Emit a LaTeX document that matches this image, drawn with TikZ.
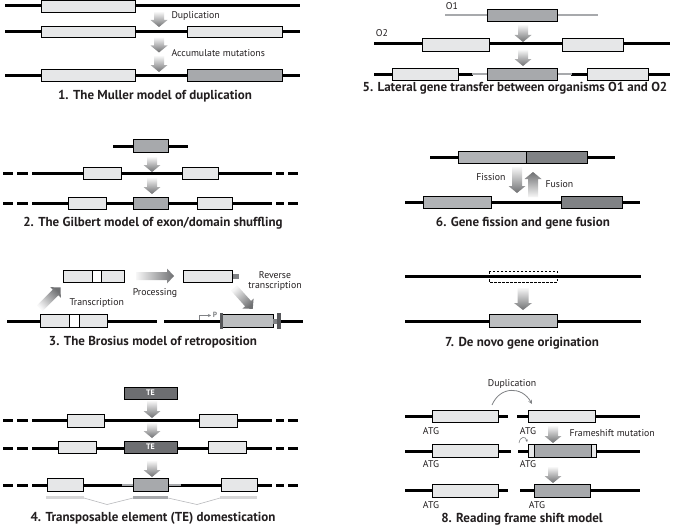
\documentclass[tikz,border=0pt]{standalone}
\usepackage{fontspec}
\setmainfont{PT Sans}
\usetikzlibrary{arrows.meta}
\definecolor{lgray}{HTML}{E6E7E8}
\definecolor{mgray}{HTML}{A7A9AC}
\definecolor{dgray}{HTML}{6D6E71}
\definecolor{fgray}{HTML}{B1B3B6}
\definecolor{ggray}{HTML}{808285}
\definecolor{ngray}{HTML}{BCBEC0}
\definecolor{alight}{HTML}{F7F7F7}
\definecolor{adark}{HTML}{6F7072}
\definecolor{txt}{HTML}{231F20}
\tikzset{
  dna/.style={line width=3pt,draw=black},
  gdna/.style={line width=2.6pt,draw=mgray},
  gbox/.style={draw=black,line width=0.8pt,fill=lgray},
  ttl/.style={font=\fontsize{13}{15}\selectfont\bfseries,text=txt},
  lbl/.style={font=\fontsize{9.8}{11}\selectfont,text=txt},
}
% block arrow: tail x, tail y, canvas angle, length, shaft half width, head half width
\newcommand\blk[6]{%
\begin{scope}[shift={(#1,#2)},rotate=#3]
\pgfmathsetmacro\shadeang{#3-90}
\shade[top color=adark,bottom color=alight,shading angle=\shadeang]
 (0,-#5)--(#4-7,-#5)--(#4-7,-#6)--(#4,0)--(#4-7,#6)--(#4-7,#5)--(0,#5)--cycle;
\end{scope}}
\newcommand\dline[1]{\draw[dna] (3,#1)--(13,#1) (17,#1)--(28,#1) (32,#1)--(272,#1) (276,#1)--(284,#1) (288,#1)--(298,#1);}
\begin{document}
\begin{tikzpicture}[x=1pt,y=-1pt]
\useasboundingbox (0,0) rectangle (679,527);
\fill[white] (0,0) rectangle (679,527);
% ---------- Panel 1
\draw[dna] (5,6)--(300,6);
\draw[gbox] (41,0.5) rectangle (135,12);
\blk{159}{12}{-90}{15}{5}{8.5}
\node[lbl,anchor=west] (p1dup) at (168,16) {Duplication};
\draw[dna] (5,32)--(300,32);
\draw[gbox] (41,26) rectangle (135,37.5);
\draw[gbox] (187,26) rectangle (282,37.5);
\blk{159}{37.5}{-90}{15}{5}{8.5}
\node[lbl,anchor=west] (p1acc) at (168,53) {Accumulate mutations};
\blk{159}{56}{-90}{16}{5}{8.5}
\draw[dna] (5,75)--(300,75);
\draw[gbox] (41,69) rectangle (135,81);
\draw[gbox,fill=mgray] (187,69) rectangle (282,81);
\node[ttl] (t1) at (155,96) {1. The Muller model of duplication};
% ---------- Panel 5
\node[lbl] (o1) at (452,6) {O1};
\draw[gdna] (445,15)--(598,15);
\draw[gbox,fill=mgray] (487,9) rectangle (557,21);
\blk{523}{25}{-90}{17}{5}{8.5}
\node[lbl] (o2) at (382,33) {O2};
\draw[dna] (374,44)--(670,44);
\draw[gbox] (422,38) rectangle (489,51);
\draw[gbox] (562,38) rectangle (623,51);
\blk{523}{50}{-90}{16}{5}{8.5}
\draw[dna] (374,74)--(473,74) (571,74)--(670,74);
\draw[gdna] (472,74)--(488,74) (556,74)--(572,74);
\draw[gbox] (392,68) rectangle (458,80);
\draw[gbox,fill=mgray] (487,68) rectangle (557,80);
\draw[gbox] (587,68) rectangle (648,80);
\node[ttl] (t5) at (515,88) {5. Lateral gene transfer between organisms O1 and O2};
% ---------- Panel 2
\draw[dna] (113,146)--(188,146);
\draw[gbox,fill=mgray] (133,139) rectangle (168,152);
\blk{152}{157}{-90}{15}{5}{8.5}
\dline{173}
\draw[gbox] (83,167) rectangle (121,179);
\draw[gbox] (182,167) rectangle (218,179);
\blk{152}{178}{-90}{16}{5}{8.5}
\dline{203}
\draw[gbox] (68,197) rectangle (106,209);
\draw[gbox,fill=mgray] (133,197) rectangle (168,209);
\draw[gbox] (197,197) rectangle (232,209);
\node[ttl] (t2) at (153,223) {2. The Gilbert model of exon/domain shuffling};
% ---------- Panel 6
\draw[dna] (430,157)--(615,157);
\draw[gbox,fill=fgray] (458,151) rectangle (526,163);
\draw[gbox,fill=ggray] (526,151) rectangle (587,163);
\blk{517}{167}{-90}{26}{5}{8.5}
\blk{533}{197}{90}{25}{5}{8.5}
\node[lbl,anchor=east] (fis) at (509,177) {Fission};
\node[lbl,anchor=west] (fus) at (542,184) {Fusion};
\draw[dna] (405,202)--(640,202);
\draw[gbox,fill=fgray] (423,196) rectangle (491,208);
\draw[gbox,fill=ggray] (561,196) rectangle (622,208);
\node[ttl] (t6) at (523,223) {6. Gene fission and gene fusion};
% ---------- Panel 3
\draw[gbox] (63,270) rectangle (124,282);
\draw[draw=black,line width=0.8pt,fill=white] (92,270) rectangle (101,282);
\blk{40}{308}{45}{29}{4}{7.5}
\node[lbl,anchor=west] (trs) at (66,303) {Transcription};
\blk{136}{276}{0}{38}{4}{7.5}
\node[lbl] (proc) at (155,293) {Processing};
\draw[fill=ggray,draw=none] (232,273.5) rectangle (239,278.5);
\draw[gbox] (183,270) rectangle (232,282);
\node[lbl,align=center,inner sep=0pt] (rt) at (275,281.5) {Reverse\\[-1pt]transcription};
\blk{234}{288}{-48}{28}{4}{7.5}
\draw[dna] (7,321)--(157,321);
\draw[gbox] (40,314) rectangle (107,327);
\draw[draw=black,line width=0.8pt,fill=white] (69,314) rectangle (79,327);
\draw[dna] (164,321)--(303,321);
\draw[ggray,line width=0.7pt,-{Stealth[length=3pt,width=3pt]}] (199,320)--(199,315.5)--(211,315.5);
\node[font=\fontsize{7.5}{8}\selectfont\bfseries,text=ggray,inner sep=0pt] (prom) at (215,314.5) {P};
\draw[gbox,fill=ngray] (222,314) rectangle (273,327);
\fill[ggray] (273,318.5) rectangle (277,323.5);
\fill[dgray!80!black] (219.5,312.5) rectangle (223,329);
\fill[dgray!80!black] (277,312.5) rectangle (280.5,329);
\node[ttl] (t3) at (153,342) {3. The Brosius model of retroposition};
% ---------- Panel 7
\draw[dna] (405,276)--(641,276);
\draw[black,line width=0.7pt,dash pattern=on 2.5pt off 1.5pt] (489,271) rectangle (557,282);
\blk{523}{288}{-90}{22}{5.5}{9}
\draw[dna] (405,321)--(641,321);
\draw[gbox,fill=ngray] (489,314) rectangle (557,327);
\node[ttl] (t7) at (522,343) {7. De novo gene origination};
% ---------- Panel 4
\draw[gbox,fill=dgray] (124,387) rectangle (177,399);
\node[font=\fontsize{8}{9}\selectfont\bfseries,text=white] (te1) at (150.5,393) {TE};
\blk{152}{401}{-90}{17}{5}{8.5}
\dline{420}
\draw[gbox] (67,414) rectangle (104,427);
\draw[gbox] (199,414) rectangle (237,427);
\blk{152}{423}{-90}{15}{5}{8.5}
\dline{448}
\draw[gbox] (58,441) rectangle (96,453);
\draw[gbox,fill=dgray] (124,441) rectangle (177,453);
\node[font=\fontsize{8}{9}\selectfont\bfseries,text=white] (te2) at (150.5,447) {TE};
\draw[gbox] (208,441) rectangle (246,453);
\blk{152}{461}{-90}{16}{5}{8.5}
\dline{485}
\draw[gdna] (122,485)--(134,485) (167,485)--(181,485);
\draw[gbox] (47,478) rectangle (83,491);
\draw[gbox,fill=mgray] (133,478) rectangle (168,491);
\draw[gbox] (221,478) rectangle (257,491);
\draw[line width=3.5pt,draw=lgray!85!gray] (46,497.5)--(84,497.5) (220,497.5)--(257,497.5);
\draw[line width=3.5pt,draw=mgray] (133,497.5)--(168,497.5);
\draw[mgray!80,line width=0.6pt] (84,498)--(107,504.5)--(133,498) (168,498)--(197,504.5)--(220,498);
\node[ttl] (t4) at (153,518) {4. Transposable element (TE) domestication};
% ---------- Panel 8
\node[lbl] (dup8) at (512,384) {Duplication};
\draw[ggray,line width=0.8pt,-{Stealth[length=4pt,width=4pt]}] (492,405) .. controls (500,386) and (522,386) .. (532,404);
\draw[dna] (405,416)--(508,416) (517,416)--(640,416);
\draw[gbox] (432,410) rectangle (498,422);
\draw[gbox] (528,410) rectangle (595,422);
\node[lbl] (a1) at (431,431) {ATG};
\node[lbl] (a2) at (528,431) {ATG};
\blk{553}{426}{-90}{17}{5}{8.5}
\node[lbl,anchor=west] (fsm) at (566,433) {Frameshift mutation};
\draw[dna] (405,451)--(511,451) (518,451)--(640,451);
\draw[gbox] (432,444) rectangle (498,457);
\draw[gbox] (528,444) rectangle (596,457);
\draw[gbox,fill=mgray] (534,444) rectangle (591,457);
\draw[ggray,line width=0.6pt,-{Stealth[length=2.5pt,width=2.5pt]}] (519,443) .. controls (520,436) and (526,436) .. (527,442);
\node[lbl] (a3) at (431,464) {ATG};
\node[lbl] (a4) at (528,464) {ATG};
\blk{553}{467}{-90}{16}{5}{8.5}
\draw[dna] (405,490)--(508,490) (520,490)--(640,490);
\draw[gbox] (432,484) rectangle (498,497);
\draw[gbox,fill=mgray] (534,484) rectangle (590,497);
\node[lbl] (a5) at (431,505) {ATG};
\node[lbl] (a6) at (537,505) {ATG};
\node[ttl] (t8) at (522,519) {8. Reading frame shift model};
\end{tikzpicture}
\end{document}
